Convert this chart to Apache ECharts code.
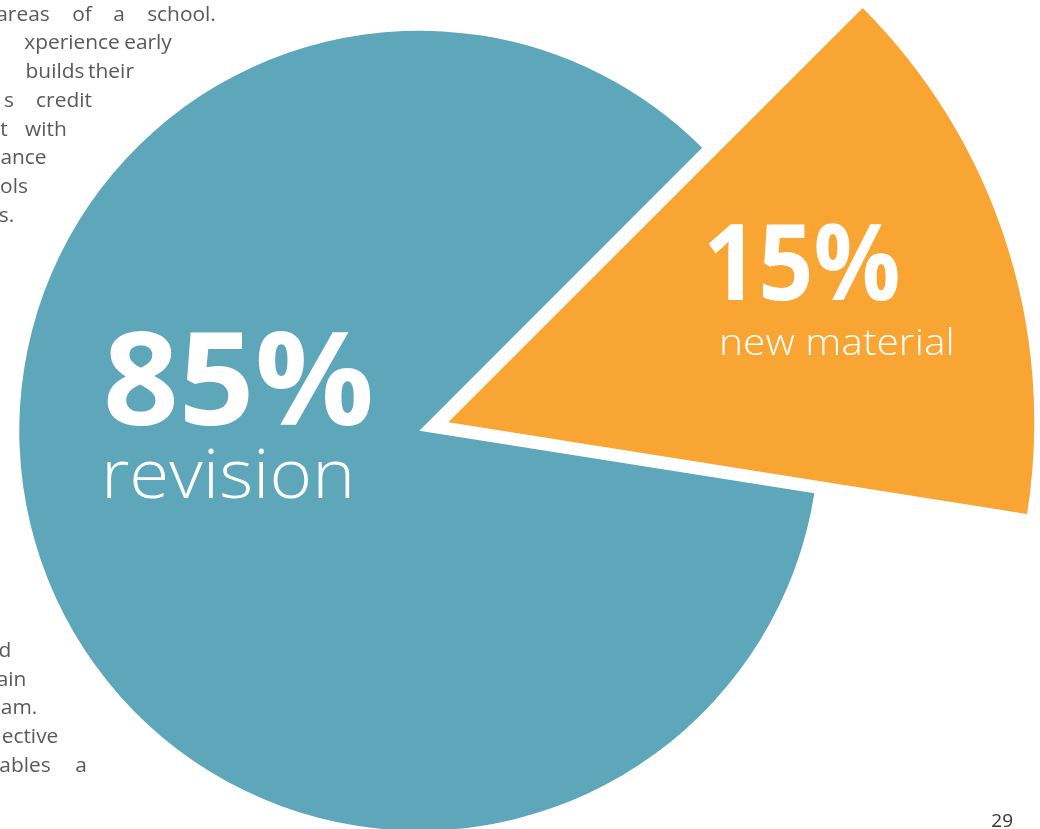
<!DOCTYPE html>
<html>
<head>
<meta charset="utf-8">
<script src="https://cdn.jsdelivr.net/npm/echarts@6/dist/echarts.min.js"></script>
<style>
  html, body { margin: 0; padding: 0; background: #ffffff; }
  #chart { width: 1040px; height: 829px; }
</style>
</head>
<body>
<div id="chart"></div>
<script>
// ---- data ----
const categories = ['revision', 'new material'];
const values = [85, 15];
const pageNumber = '29';
// visible fragments of the page text behind the chart
const bodyWordsTop = [
  ['areas', 'of', 'a', 'school.'],
  ['xperience', 'early'],
  ['builds', 'their'],
  ['s', 'credit'],
  ['t', 'with'],
  ['ance'],
  ['ols'],
  ['s.']
];
const bodyWordsBottom = [
  ['d'],
  ['ain'],
  ['am.'],
  ['ective'],
  ['ables', 'a']
];

// ---- layout / style ----
const TEAL = '#5ea6ba';
const ORANGE = '#f9a533';
const TEXT_GREY = '#58595b';
// word centre x positions
const wordCxTop = [
  [23, 82, 119, 181.5],
  [72, 148],
  [55, 111],
  [9, 64],
  [4, 46],
  [23.5],
  [14],
  [6.5]
];
const wordCxBottom = [
  [5],
  [11.5],
  [19],
  [30],
  [25, 81]
];
const topBaseline0 = 20.7, bottomBaseline0 = 657, lineStep = 28.7;
const bodyFont = 20.5, bodyScaleX = 1.02;

const chart = echarts.init(document.getElementById('chart'), null, { renderer: 'canvas' });

const graphics = [];
function addWords(words, xs, base0) {
  words.forEach((line, li) => {
    const baseline = base0 + li * lineStep;
    line.forEach((w, wi) => {
      graphics.push({
        type: 'text', z: 0, silent: true,
        x: xs[li][wi], y: baseline - 0.285 * bodyFont,
        scaleX: bodyScaleX,
        style: {
          text: w, fill: TEXT_GREY,
          font: '400 ' + bodyFont + 'px "Open Sans"',
          textAlign: 'center', textVerticalAlign: 'middle'
        }
      });
    });
  });
}
addWords(bodyWordsTop, wordCxTop, topBaseline0);
addWords(bodyWordsBottom, wordCxBottom, bottomBaseline0);

function bigText(txt, x, baseline, size, weight, scaleX) {
  return {
    type: 'text', z: 100, silent: true,
    x: x, y: baseline - 0.285 * size, scaleX: scaleX || 1,
    style: {
      text: txt, fill: '#ffffff',
      font: weight + ' ' + size + 'px "Open Sans"',
      textAlign: 'left', textVerticalAlign: 'middle'
    }
  };
}
graphics.push(bigText(values[0] + '%', 103, 425, 130, 700, 1.02));
graphics.push(bigText(categories[0], 101, 498, 68, 350, 1.07));
graphics.push(bigText(values[1] + '%', 703, 300, 105, 700, 0.92));
graphics.push(bigText(categories[1], 719, 355, 37, 350, 1.1));
graphics.push({
  type: 'text', z: 100, silent: true,
  x: 1013, y: 826.7 - 0.285 * 19,
  style: {
    text: pageNumber, fill: '#333333',
    font: '400 19px "Open Sans"',
    textAlign: 'right', textVerticalAlign: 'middle'
  }
});

function pieSeries(center, radius, showIndex, color) {
  return {
    type: 'pie',
    z: 2,
    center: center,
    radius: [0, radius],
    startAngle: 351,
    clockwise: true,
    silent: true,
    animation: false,
    label: { show: false },
    labelLine: { show: false },
    emphasis: { disabled: true },
    itemStyle: { borderWidth: 0 },
    data: categories.map((name, i) => ({
      name: name,
      value: values[i],
      itemStyle: { color: i === showIndex ? color : 'rgba(0,0,0,0)', borderWidth: 0 }
    }))
  };
}

chart.setOption({
  backgroundColor: '#ffffff',
  animation: false,
  tooltip: { show: false },
  legend: { show: false },
  series: [
    pieSeries([419.3, 430.7], 400, 0, TEAL),
    pieSeries([448.3, 422.3], 586, 1, ORANGE)
  ],
  graphic: { elements: graphics }
});
</script>
</body>
</html>
